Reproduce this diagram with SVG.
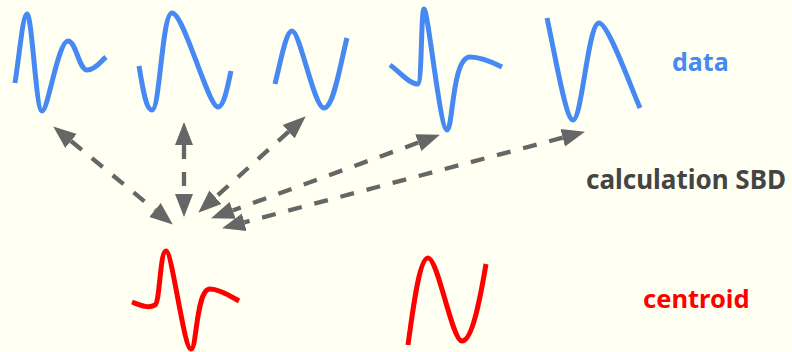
<svg xmlns="http://www.w3.org/2000/svg" width="792" height="352" viewBox="0 0 792 352">
  <style>
    .data { fill: none; stroke: #4689F2; stroke-width: 5; stroke-linecap: butt; stroke-linejoin: round; }
    .cent { fill: none; stroke: #FF0000; stroke-width: 5; stroke-linecap: butt; stroke-linejoin: round; }
    .conn { fill: none; stroke: #666666; stroke-width: 4.3; stroke-dasharray: 14 13; marker-start: url(#head); marker-end: url(#head); }
    .lbl { font-family: "Noto Sans", "Liberation Sans", sans-serif; font-weight: bold; }
  </style>
  <defs>
    <marker id="head" markerUnits="userSpaceOnUse" markerWidth="24" markerHeight="20" refX="0" refY="9" orient="auto-start-reverse" viewBox="0 0 24 18">
      <path d="M0,0 L23,9 L0,18 Z" fill="#666666"/>
    </marker>
  </defs>
  <rect width="792" height="352" fill="#FFFFF2"/>

  <g id="data1"><path class="data" d="M15,83 C20,50 23,14 27,14 C32,14 36,111 42,111 C48,111 58,41 68,41 C76,41 79,70 87,70 C95,70 100,62 106,57"/></g>
  <g id="data2"><path class="data" d="M139,66 C143,90 146,110 152,110 C160,110 162,13 172,13 C184,13 208,107 218,107 C224,107 228,85 231,71"/></g>
  <g id="data3"><path class="data" d="M275,84 C281,60 286,31 292,31 C300,31 314,108 324,108 C334,108 341,60 347,38"/></g>
  <g id="data4"><path class="data" d="M390,65 C400,72 410,85 418,84 C422,83 421,9 424,9 C428,9 440,130 447,130 C453,130 452,57 470,57 C482,57 494,63 502,67"/></g>
  <g id="data5"><path class="data" d="M547,18 C556,60 566,120 573,120 C582,120 588,23 599,23 C608,23 630,85 640,108"/></g>

  <g id="centroid1"><path class="cent" d="M132,302 C140,305 148,309 155,305 C160,302 160,251 166,251 C172,251 184,349 191,349 C197,349 196,289 210,289 C220,289 232,297 239,301"/></g>
  <g id="centroid2"><path class="cent" d="M408,345 C414,300 420,258 428,258 C438,258 452,341 462,341 C472,341 480,300 486,264"/></g>

  <g id="label-data"><text class="lbl" x="672" y="71" font-size="25" fill="#4689F2">data</text></g>
  <g id="label-sbd"><text class="lbl" x="586" y="189" font-size="26" fill="#444444">calculation SBD</text></g>
  <g id="label-centroid"><text class="lbl" x="643" y="308" font-size="25.5" fill="#FF0000">centroid</text></g>

  <g id="connectors">
    <line class="conn" x1="71" y1="141" x2="155" y2="210"/>
    <line class="conn" x1="184" y1="145" x2="184" y2="194"/>
    <line class="conn" x1="288.6" y1="131.7" x2="215.4" y2="197.3"/>
    <line class="conn" x1="418.3" y1="142.6" x2="232.7" y2="210.4"/>
    <line class="conn" x1="562.7" y1="137.7" x2="244.3" y2="222.3"/>
  </g>
</svg>
